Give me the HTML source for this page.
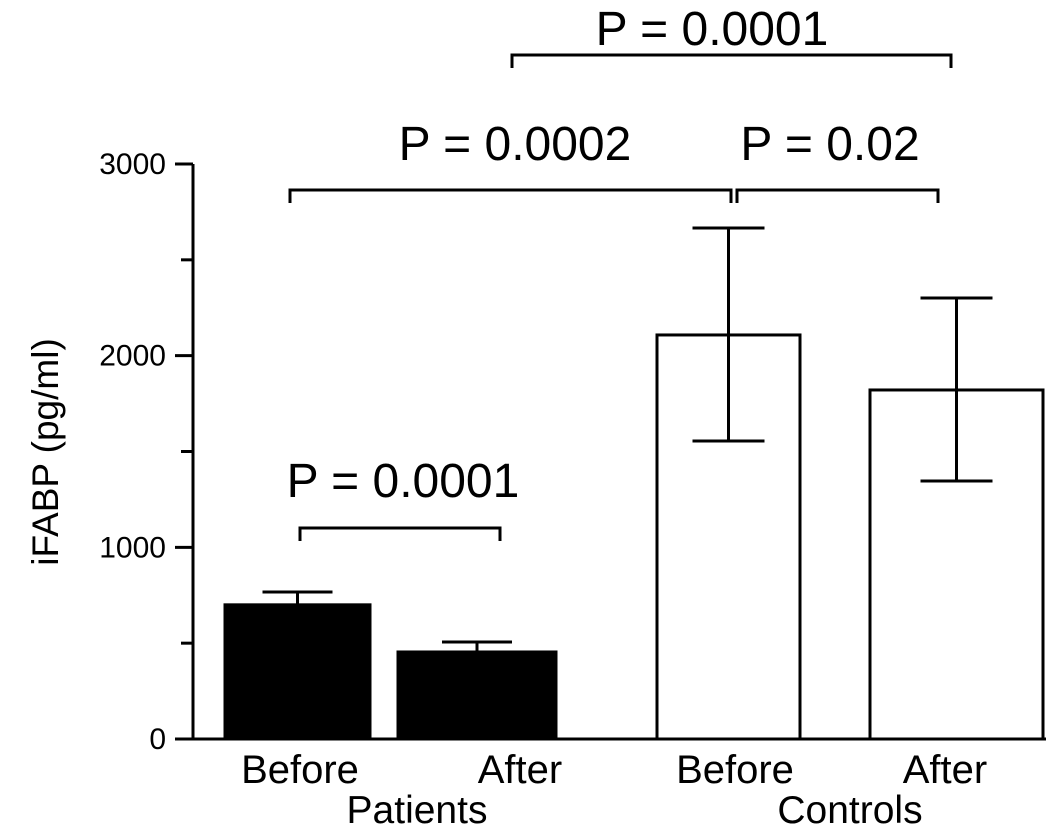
<!DOCTYPE html>
<html><head><meta charset="utf-8"><style>
html,body{margin:0;padding:0;background:#fff;}
svg{display:block;font-family:"Liberation Sans",Arial,sans-serif;}
</style></head><body>
<svg id="chart" width="1063" height="838" viewBox="0 0 1063 838"></svg>
<script>
const categories = ["Before","After","Before","After"];
const groups = ["Patients","Controls"];
const means = [700, 454, 2108, 1821];
const errHigh = [767, 506, 2666, 2301];
const errLow = [700, 454, 1555, 1346];
const fills = ["#000","#000","#fff","#fff"];
const yTicks = [0,1000,2000,3000];
const pLabels = ["P = 0.0001","P = 0.0002","P = 0.02","P = 0.0001"];

const NS = "http://www.w3.org/2000/svg";
const svg = document.getElementById('chart');
const y0 = 739, y1 = 164, ymax = 3000;
const Y = v => y0 - (v / ymax) * (y0 - y1);
const barL = [225, 398, 657, 870], barR = [370, 556, 800, 1043];
const cx = i => (barL[i] + barR[i]) / 2;
function el(tag, attrs, parent) {
  const e = document.createElementNS(NS, tag);
  for (const k in attrs) e.setAttribute(k, attrs[k]);
  (parent || svg).appendChild(e);
  return e;
}
let a = el('line', {x1:193, y1:Y(ymax), x2:193, y2:y0, stroke:'#000','stroke-width':3});


a = el('line', {x1:192, y1:y0, x2:1046, y2:y0, stroke:'#000','stroke-width':3});


for (let v = 0; v <= ymax; v += 500) {
  const major = v % 1000 === 0;
  const t = el('line', {x1: major ? 175 : 181, y1:Y(v), x2:193, y2:Y(v), stroke:'#000','stroke-width':3});
  
  
}
yTicks.forEach(v => {
  const t = el('text', {x:166, y:Y(v)+10, 'text-anchor':'end', 'font-size':30});
  t.textContent = v;
  
  
});
const yt = el('text', {x:0, y:0, 'text-anchor':'middle', 'font-size':37, transform:'translate(58,452) rotate(-90)'});
yt.textContent = 'iFABP (pg/ml)';


means.forEach((m, i) => {
  const b = el('rect', {x:barL[i], y:Y(m), width:barR[i]-barL[i], height:y0-Y(m), fill:fills[i], stroke:'#000','stroke-width':3});
  
  
  const x = cx(i), hw = i < 2 ? 35 : 36;
  const eb = el('path', {d:`M${x},${Y(errLow[i])}V${Y(errHigh[i])}M${x-hw},${Y(errHigh[i])}H${x+hw}` + (errLow[i] < m ? `M${x-hw},${Y(errLow[i])}H${x+hw}` : ''), stroke:'#000','stroke-width':3, fill:'none'});
  
  
  const lt = el('text', {x:[300,520,735,945][i], y:783, 'text-anchor':'middle', 'font-size':40});
  lt.textContent = categories[i];
  
  
});
[[groups[0],417],[groups[1],850]].forEach(([g, x]) => {
  const t = el('text', {x:x, y:823, 'text-anchor':'middle', 'font-size':39});
  t.textContent = g;
  
  
});
const brackets = [[300,500,528,403,497],[290,731,190,515,160],[737,938,190,830,160],[512,951,55,712,45]];
brackets.forEach((b, i) => {
  const p = el('path', {d:`M${b[0]},${b[2]+13}V${b[2]}H${b[1]}V${b[2]+13}`, stroke:'#000','stroke-width':3, fill:'none'});
  
  
  const t = el('text', {x:b[3], y:b[4], 'text-anchor':'middle', 'font-size':48});
  t.textContent = pLabels[i];
  
  
});
</script>
</body></html>
